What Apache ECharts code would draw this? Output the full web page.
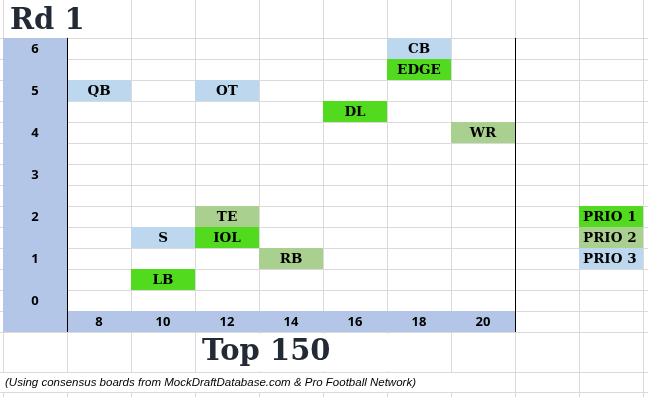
<!DOCTYPE html>
<html>
<head>
<meta charset="utf-8">
<title>Rd 1</title>
<script src="https://cdn.jsdelivr.net/npm/echarts/dist/echarts.min.js"></script>
<style>
  html, body { margin: 0; padding: 0; background: #fff; }
  #chart { width: 648px; height: 397px; }
</style>
</head>
<body>
<div id="chart"></div>
<script>
// picks on the board (x = pick, y = row value, prio 1..3)
var positions = ['QB', 'OT', 'CB', 'EDGE', 'DL', 'WR', 'TE', 'IOL', 'S', 'RB', 'LB'];
var picks     = [8, 12, 18, 18, 16, 20, 12, 12, 10, 14, 10];
var rows      = [5, 5, 6, 5.5, 4.5, 4, 2, 1.5, 1.5, 1, 0.5];
var prios     = [3, 3, 3, 1, 1, 2, 2, 1, 3, 2, 1];

// tick labels
var xTicks = [8, 10, 12, 14, 16, 18, 20];
var yTicks = [0, 1, 2, 3, 4, 5, 6];

var legendLabels = ['PRIO 1', 'PRIO 2', 'PRIO 3'];

var titleText = 'Rd 1';
var xTitle = 'Top 150';
var footText = '(Using consensus boards from MockDraftDatabase.com & Pro Football Network)';

var prioColors = ['#52da1e', '#a9d08e', '#bdd7ee'];
var headerBlue = '#b4c6e7';
var gridColor = '#dadada';
var cellFont = 'bold 13.5px "DejaVu Serif"';
var tickFont = 'bold 13px "Open Sans"';

var chart = echarts.init(document.getElementById('chart'));

var cellData = positions.map(function (p, i) { return [picks[i], rows[i], prios[i], i]; });
var xFirst = xTicks[0], xLast = xTicks[xTicks.length - 1];
var yLow = yTicks[0], yHigh = yTicks[yTicks.length - 1];
var legendData = legendLabels.map(function (l, i) { return [xLast + 4, 2 - i * 0.5, i + 1, i]; });

// header bands: y column and x row
var bandData = [
  [xFirst - 3, yHigh + 0.25, xFirst - 1, yLow - 0.75],
  [xFirst - 1, yLow - 0.25, xLast + 1, yLow - 0.75]
];
var tickData = yTicks.map(function (v) { return [xFirst - 2, v, String(v)]; })
  .concat(xTicks.map(function (v) { return [v, yLow - 0.5, String(v)]; }));
var edgeData = [
  [xFirst - 1, yHigh + 0.25, xFirst - 1, yLow - 0.75],
  [xLast + 1, yHigh + 0.25, xLast + 1, yLow - 0.75]
];

function cellRender(labels, leftAlign) {
  return function (params, api) {
    var c = api.coord([api.value(0), api.value(1)]);
    var s = api.size([2, 0.5]);
    var txt = labels[api.value(3)];
    return {
      type: 'group',
      children: [
        { type: 'rect', shape: { x: c[0] - s[0] / 2, y: c[1] - s[1] / 2, width: s[0], height: s[1] },
          style: { fill: prioColors[api.value(2) - 1] } },
        { type: 'text', x: leftAlign ? c[0] - s[0] / 2 + 4 : c[0], y: c[1] + 0.5,
          style: { text: txt, font: cellFont, fill: '#000', align: leftAlign ? 'left' : 'center', verticalAlign: 'middle' } }
      ]
    };
  };
}

function hiddenAxis(idx, min, max) {
  return { type: 'value', gridIndex: idx, min: min, max: max, show: false };
}
function lineAxis(idx, max) {
  return {
    type: 'value', gridIndex: idx, min: 0, max: max, interval: 1,
    axisLine: { show: false }, axisTick: { show: false }, axisLabel: { show: false },
    splitLine: { show: true, lineStyle: { color: gridColor, width: 1 } }
  };
}

chart.setOption({
  animation: false,
  title: [
    { text: titleText, left: 4, top: 0, padding: [6, 30, 1, 6], backgroundColor: '#fff',
      textStyle: { fontFamily: 'DejaVu Serif', fontWeight: 'bold', fontSize: 29, lineHeight: 30, color: '#222b35' } },
    { text: xTitle, left: 196, top: 334, padding: [0, 60, 0, 6], backgroundColor: '#fff',
      textStyle: { fontFamily: 'DejaVu Serif', fontWeight: 'bold', fontSize: 29, lineHeight: 37, color: '#222b35' } },
    { text: footText, left: 3, top: 373, padding: [1, 36, 0, 2], backgroundColor: '#fff',
      textStyle: { fontFamily: '"Liberation Sans"', fontStyle: 'italic',
        fontWeight: 'normal', fontSize: 11.5, lineHeight: 18, color: '#000' } }
  ],
  grid: [
    { left: 3, right: 5, top: 0, bottom: 0 },      // column lines
    { left: 0, right: 0, top: 38, bottom: 65 },    // row lines
    { left: 0, right: 0, top: 372, bottom: 5 },    // lower row lines
    { left: 0, right: 0, top: 0, bottom: 0 }       // data
  ],
  xAxis: [
    lineAxis(0, 10),
    hiddenAxis(1, 0, 1),
    hiddenAxis(2, 0, 1),
    hiddenAxis(3, 7 - 67 / 32, 7 + 581 / 32)
  ],
  yAxis: [
    hiddenAxis(0, 0, 1),
    lineAxis(1, 14),
    lineAxis(2, 1),
    hiddenAxis(3, 6 - 348.5 / 42, 6 + 48.5 / 42)
  ],
  series: [
    {
      type: 'custom', name: 'bands', xAxisIndex: 3, yAxisIndex: 3, data: bandData,
      renderItem: function (params, api) {
        var a = api.coord([api.value(0), api.value(1)]);
        var b = api.coord([api.value(2), api.value(3)]);
        return { type: 'rect', shape: { x: a[0], y: a[1], width: b[0] - a[0], height: b[1] - a[1] },
          style: { fill: headerBlue } };
      }
    },
    {
      type: 'custom', name: 'ticks', xAxisIndex: 3, yAxisIndex: 3, data: tickData,
      renderItem: function (params, api) {
        var c = api.coord([api.value(0), api.value(1)]);
        return { type: 'text', x: c[0], y: c[1] + 0.5,
          style: { text: tickData[params.dataIndex][2], font: tickFont, fill: '#000', align: 'center', verticalAlign: 'middle' } };
      }
    },
    {
      type: 'custom', name: 'cells', xAxisIndex: 3, yAxisIndex: 3, data: cellData,
      renderItem: cellRender(positions, false)
    },
    {
      type: 'custom', name: 'legend', xAxisIndex: 3, yAxisIndex: 3, data: legendData,
      renderItem: cellRender(legendLabels, true)
    },
    {
      type: 'custom', name: 'edges', xAxisIndex: 3, yAxisIndex: 3, data: edgeData, z: 5,
      renderItem: function (params, api) {
        var a = api.coord([api.value(0), api.value(1)]);
        var b = api.coord([api.value(2), api.value(3)]);
        var x = Math.round(a[0]) + 0.5;
        return { type: 'line', shape: { x1: x, y1: a[1], x2: x, y2: b[1] },
          style: { stroke: '#000', lineWidth: 1 } };
      }
    }
  ]
});
</script>
</body>
</html>
